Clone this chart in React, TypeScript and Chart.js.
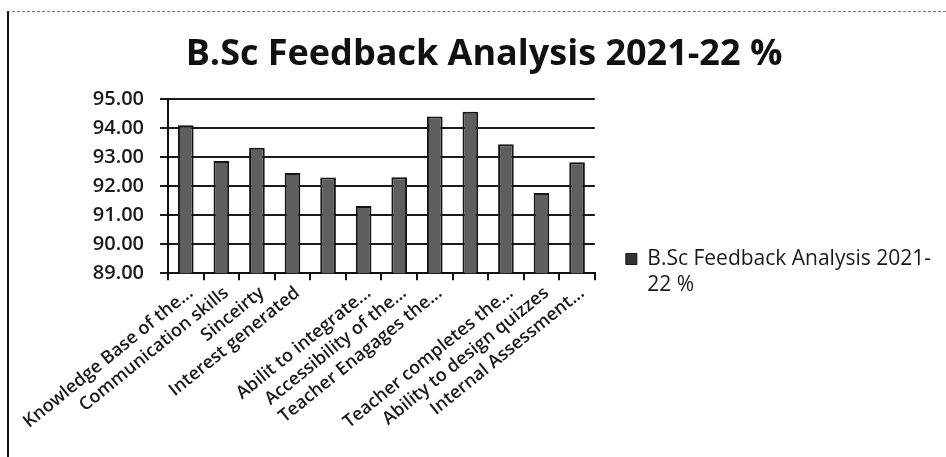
import React, { useEffect, useRef } from 'react';
import { Chart, registerables } from 'chart.js';

Chart.register(...registerables);

const chartTitle = 'B.Sc Feedback Analysis 2021-22 %';
const seriesName = 'B.Sc Feedback Analysis 2021-22 %';
const legendLines = ['B.Sc Feedback Analysis 2021-', '22 %'];

const categories = [
  'Knowledge Base of the...',
  'Communication skills',
  'Sinceirty',
  'Interest generated',
  '',
  'Abilit to integrate...',
  'Accessibility of the...',
  'Teacher Enagages the...',
  '',
  'Teacher completes the...',
  'Ability to design quizzes',
  'Internal Assessment...',
];

const values = [94.1, 92.87, 93.33, 92.46, 92.3, 91.32, 92.31, 94.4, 94.57, 93.45, 91.77, 92.83];

const yMin = 89;
const yMax = 95;
const yStep = 1;

const FONT = "'Open Sans', 'Noto Sans', sans-serif";

export default function App() {
  const canvasRef = useRef<HTMLCanvasElement | null>(null);

  useEffect(() => {
    const canvas = canvasRef.current;
    if (!canvas) return;
    const chart = new Chart(canvas, {
      type: 'bar',
      data: {
        labels: categories,
        datasets: [
          {
            label: seriesName,
            data: values,
            backgroundColor: '#5e5e5e',
            borderColor: '#151515',
            borderWidth: 2,
            barPercentage: 0.44,
            categoryPercentage: 1,
          },
        ],
      },
      options: {
        animation: false,
        responsive: false,
        devicePixelRatio: 1,
        layout: { padding: { left: 27, right: 5, top: 0, bottom: 0 } },
        plugins: {
          title: {
            display: true,
            text: chartTitle,
            color: '#111',
            font: { family: FONT, size: 36, weight: 'bold', lineHeight: 1.2 },
            padding: { top: 33, bottom: 23 },
          },
          legend: {
            position: 'right',
            maxWidth: 400,
            title: {
              display: true,
              text: ' ',
              font: { size: 10, lineHeight: 1.2 },
              padding: { top: 80, bottom: 0 },
            },
            labels: {
              color: '#1a1a1a',
              font: { family: FONT, size: 21, lineHeight: 1.24 },
              boxWidth: 11,
              boxHeight: 11,
              padding: 31,
              generateLabels: () => [
                {
                  text: legendLines as any,
                  fillStyle: '#333',
                  strokeStyle: '#111',
                  fontColor: '#1a1a1a',
                  lineWidth: 1,
                  hidden: false,
                  datasetIndex: 0,
                } as any,
              ],
            },
          },
          tooltip: { enabled: false },
        },
        scales: {
          x: {
            offset: true,
            grid: {
              offset: true,
              drawOnChartArea: false,
              drawTicks: true,
              tickLength: 7,
              color: '#111',
              lineWidth: 2,
            },
            border: { display: true, color: '#111', width: 2 },
            ticks: {
              autoSkip: false,
              minRotation: 39,
              maxRotation: 39,
              padding: 2,
              labelOffset: 5,
              color: '#1a1a1a',
              font: { family: FONT, size: 18, weight: 600 },
            },
            afterFit: (scale: any) => {
              scale.height = 183.7;
            },
          },
          y: {
            min: yMin,
            max: yMax,
            grid: {
              color: '#1a1a1a',
              lineWidth: 2,
              tickLength: 8,
            },
            border: { display: true, color: '#111', width: 2 },
            ticks: {
              stepSize: yStep,
              padding: 16,
              color: '#1a1a1a',
              font: { family: FONT, size: 20, weight: 600 },
              callback: (v: any) => Number(v).toFixed(2),
            },
            afterFit: (scale: any) => {
              scale.width = 141;
            },
          },
        },
      },
    });
    return () => chart.destroy();
  }, []);

  return (
    <div
      style={{
        position: 'fixed',
        left: 0,
        top: 0,
        width: 946,
        height: 457,
        background: '#fff',
        overflow: 'hidden',
      }}
    >
      <div
        style={{
          position: 'absolute',
          left: 7,
          top: 11,
          right: 0,
          bottom: -2,
          borderLeft: '2px solid #111',
          borderTop: '1px dashed #777',
        }}
      />
      <canvas
        ref={canvasRef}
        width={946}
        height={457}
        style={{ position: 'absolute', left: 0, top: 0, width: 946, height: 457 }}
      />
    </div>
  );
}
